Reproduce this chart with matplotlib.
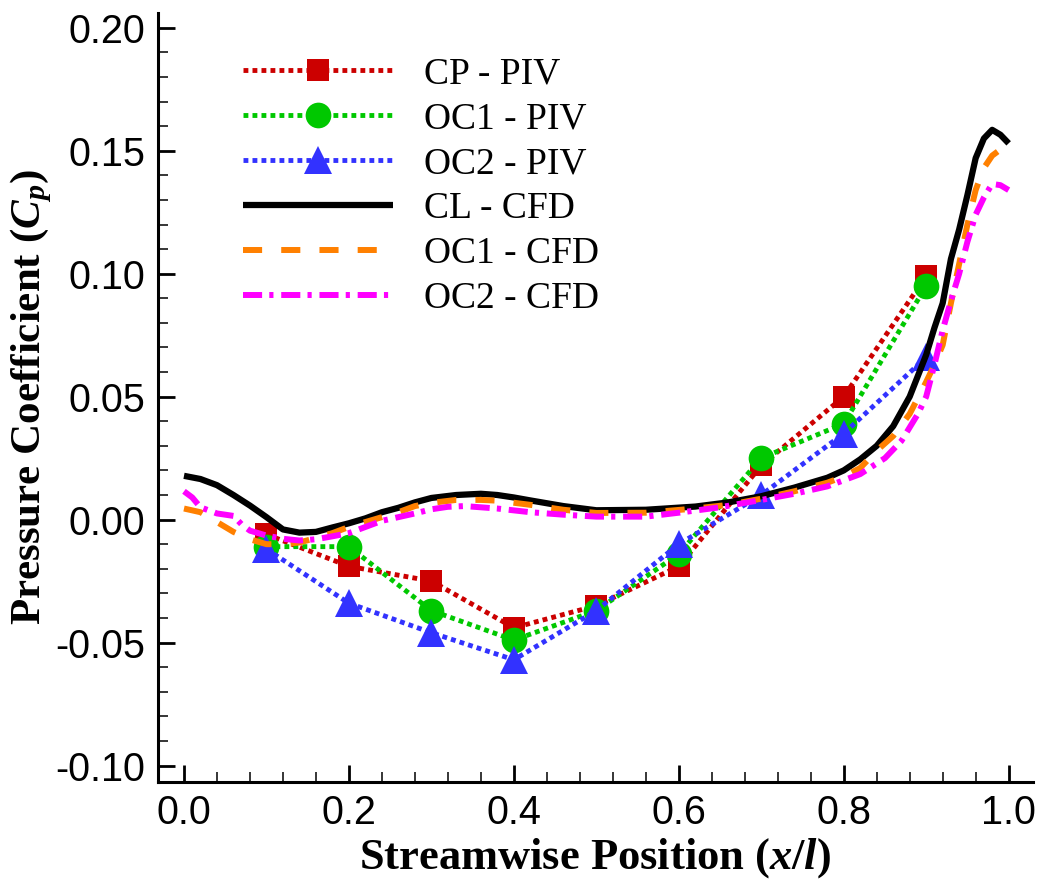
import matplotlib
matplotlib.use("Agg")
import matplotlib.pyplot as plt
from matplotlib.ticker import MultipleLocator, FormatStrFormatter

# ── Données PIV (x/l = 0.1 ... 0.9) ──────────────────────────────
X_PIV   = [0.1, 0.2, 0.3, 0.4, 0.5, 0.6, 0.7, 0.8, 0.9]
CP_PIV  = [-0.006, -0.019, -0.025, -0.044, -0.035, -0.019, 0.022, 0.050, 0.099]
OC1_PIV = [-0.011, -0.011, -0.037, -0.049, -0.037, -0.014, 0.025, 0.039, 0.095]
OC2_PIV = [-0.012, -0.034, -0.046, -0.057, -0.037, -0.010, 0.010, 0.035, 0.066]

# ── Courbes CFD ──────────────────────────────────────────────────
X_CL = [0.0, 0.02, 0.04, 0.06, 0.08, 0.10, 0.12, 0.14, 0.16, 0.18, 0.20,
        0.22, 0.24, 0.26, 0.28, 0.30, 0.33, 0.36, 0.38, 0.40, 0.42, 0.46,
        0.50, 0.56, 0.62, 0.66, 0.70, 0.74, 0.78, 0.80, 0.82, 0.84, 0.86,
        0.88, 0.90, 0.91, 0.92, 0.93, 0.94, 0.95, 0.96, 0.97, 0.98, 0.99, 1.00]
CL_CFD = [0.0178, 0.0165, 0.0140, 0.0100, 0.0057, 0.0010, -0.0040, -0.0053,
          -0.0050, -0.0032, -0.0015, 0.0005, 0.0030, 0.0048, 0.0070, 0.0088,
          0.0100, 0.0105, 0.0100, 0.0090, 0.0078, 0.0055, 0.0038, 0.0040,
          0.0053, 0.0070, 0.0095, 0.0130, 0.0170, 0.0200, 0.0245, 0.0300,
          0.0380, 0.0500, 0.0670, 0.0780, 0.0880, 0.1060, 0.1180, 0.1320,
          0.1470, 0.1550, 0.1585, 0.1565, 0.1530]

X_OC1 = [0.0, 0.02, 0.04, 0.06, 0.08, 0.10, 0.12, 0.14, 0.16, 0.18, 0.20,
         0.22, 0.24, 0.26, 0.28, 0.30, 0.33, 0.36, 0.38, 0.42, 0.46, 0.50,
         0.56, 0.62, 0.66, 0.70, 0.74, 0.78, 0.80, 0.82, 0.84, 0.86, 0.88,
         0.90, 0.91, 0.92, 0.93, 0.94, 0.95, 0.96, 0.97, 0.98, 0.99, 1.00]
OC1_CFD = [0.0045, 0.0030, -0.0010, -0.0050, -0.0080, -0.0100, -0.0100,
           -0.0093, -0.0075, -0.0055, -0.0030, -0.0010, 0.0010, 0.0030,
           0.0055, 0.0068, 0.0080, 0.0080, 0.0077, 0.0060, 0.0040, 0.0027,
           0.0028, 0.0045, 0.0060, 0.0085, 0.0115, 0.0150, 0.0175, 0.0210,
           0.0280, 0.0340, 0.0430, 0.0560, 0.0630, 0.0710, 0.0880, 0.1040,
           0.1200, 0.1340, 0.1430, 0.1480, 0.1505, 0.1495]

X_OC2 = [0.0, 0.01, 0.02, 0.04, 0.06, 0.07, 0.08, 0.10, 0.12, 0.14, 0.16,
         0.18, 0.20, 0.22, 0.24, 0.26, 0.28, 0.30, 0.32, 0.34, 0.36, 0.38,
         0.42, 0.46, 0.50, 0.56, 0.60, 0.65, 0.70, 0.74, 0.78, 0.82, 0.85,
         0.87, 0.89, 0.90, 0.91, 0.92, 0.93, 0.94, 0.95, 0.96, 0.97, 0.98,
         0.99, 1.00]
OC2_CFD = [0.0115, 0.0090, 0.0050, 0.0025, 0.0015, -0.0020, -0.0045,
           -0.0065, -0.0078, -0.0085, -0.0080, -0.0068, -0.0055, -0.0030,
           -0.0005, 0.0010, 0.0025, 0.0042, 0.0052, 0.0055, 0.0050, 0.0045,
           0.0030, 0.0020, 0.0012, 0.0012, 0.0028, 0.0050, 0.0080, 0.0105,
           0.0135, 0.0185, 0.0250, 0.0320, 0.0430, 0.0500, 0.0630, 0.0770,
           0.0890, 0.1000, 0.1130, 0.1240, 0.1310, 0.1365, 0.1360, 0.1340]

LABELS = ["CP - PIV", "OC1 - PIV", "OC2 - PIV", "CL - CFD", "OC1 - CFD", "OC2 - CFD"]

# ── Polices ──────────────────────────────────────────────────────
plt.rcParams["mathtext.fontset"] = "custom"
plt.rcParams["mathtext.rm"] = "Liberation Serif:bold"
plt.rcParams["mathtext.it"] = "Liberation Serif:bold:italic"
plt.rcParams["mathtext.bf"] = "Liberation Serif:bold"

fig = plt.figure(figsize=(10.43, 8.86), dpi=100)
ax = fig.add_axes([0.1515, 0.1174, 0.8385, 0.8679])

# PIV : pointillés + marqueurs
piv_style = dict(linestyle=(0, (1.0, 0.85)), linewidth=3.5, markeredgewidth=0)
ax.plot(X_PIV, CP_PIV, color="#CC0000", marker="s", markersize=15.5, **piv_style)
ax.plot(X_PIV, OC1_PIV, color="#00C800", marker="o", markersize=18.5, **piv_style)
ax.plot(X_PIV, OC2_PIV, color="#3232FF", marker="^", markersize=19.5, **piv_style)

# CFD
ax.plot(X_CL, CL_CFD, color="black", linewidth=4.5, solid_capstyle="butt")
ax.plot(X_OC1, OC1_CFD, color="#FF8000", linewidth=4.3, linestyle=(0, (3.2, 3.2)))
ax.plot(X_OC2, OC2_CFD, color="#FF00FF", linewidth=4.3,
        linestyle=(0, (3.2, 1.2, 0.7, 1.3)))

# ── Axes ─────────────────────────────────────────────────────────
ax.set_xlim(-0.0315, 1.029)
ax.set_ylim(-0.1067, 0.206)
ax.spines[["top", "right"]].set_visible(False)
for s in ["left", "bottom"]:
    ax.spines[s].set_linewidth(2.2)

ax.xaxis.set_major_locator(MultipleLocator(0.2))
ax.xaxis.set_minor_locator(MultipleLocator(0.04))
ax.yaxis.set_major_locator(MultipleLocator(0.05))
ax.yaxis.set_minor_locator(MultipleLocator(0.01))
ax.xaxis.set_major_formatter(FormatStrFormatter("%.1f"))
ax.yaxis.set_major_formatter(FormatStrFormatter("%.2f"))

ax.tick_params(which="both", direction="in", top=False, right=False)
ax.tick_params(which="major", length=12, width=2.0, pad=9, labelsize=28.5)
ax.tick_params(which="minor", length=7, width=1.1)
for lab in ax.get_xticklabels() + ax.get_yticklabels():
    lab.set_fontfamily("Liberation Sans")

ax.set_xlabel(r"Streamwise Position ($x/l$)", fontsize=32, fontweight="bold",
              family="Liberation Serif", labelpad=2.5)
ax.set_ylabel(r"Pressure Coefficient ($C_p$)", fontsize=31, fontweight="bold",
              family="Liberation Serif")
ax.yaxis.set_label_coords(-0.119, 0.5)

ax.legend(LABELS, loc="upper left", bbox_to_anchor=(0.233, 0.9357),
          bbox_transform=fig.transFigure, frameon=False, borderpad=0,
          borderaxespad=0, numpoints=1, handlelength=4.0, handletextpad=0.83,
          labelspacing=0.28, prop={"family": "Liberation Serif", "size": 27})

fig.savefig("out.png", dpi=100)
